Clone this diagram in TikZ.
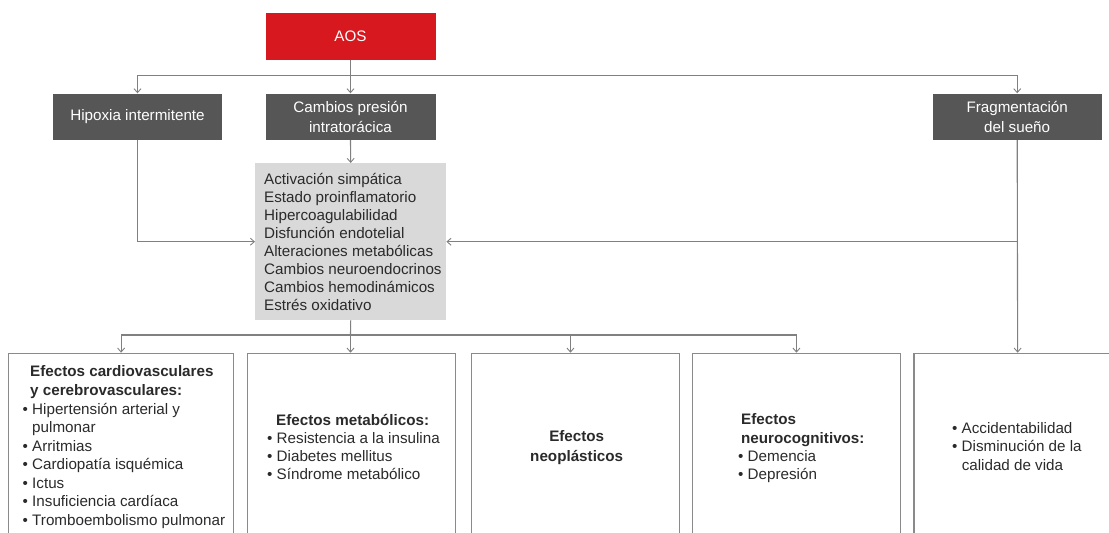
\documentclass[tikz,border=0pt]{standalone}
\usepackage{fontspec}
\setmainfont{Liberation Sans}
\usetikzlibrary{arrows.meta}
\definecolor{aosred}{HTML}{D7191F}
\definecolor{darkfill}{HTML}{565656}
\definecolor{lightfill}{HTML}{D9D9D9}
\definecolor{linegray}{HTML}{808080}
\definecolor{bordergray}{HTML}{8A8A8A}
\definecolor{txtcol}{HTML}{2A2A2A}
\begin{document}
\begin{tikzpicture}[x=1pt,y=-1pt,
  every node/.style={font=\fontsize{15.2}{18}\selectfont},
  redbox/.style={fill=aosred, text=white, minimum width=170pt, minimum height=47pt, inner sep=0pt, align=center},
  dbox/.style={fill=darkfill, text=white, minimum height=46.5pt, inner sep=0pt, align=center, font=\fontsize{15.2}{19.5}\selectfont},
  gbox/.style={fill=lightfill, minimum width=191pt, minimum height=157pt, inner sep=0pt, anchor=north west},
  ebox/.style={draw=bordergray, line width=1.2pt, minimum height=230pt, inner sep=0pt, anchor=north west},
  tl/.style={anchor=base west, inner sep=0pt, text=txtcol},
  tc/.style={anchor=base, inner sep=0pt, text=txtcol},
  conn/.style={draw=linegray, line width=1.1pt},
  arr/.style={conn, -{Straight Barb[length=4pt,width=7pt,line width=0.9pt]}}]
\useasboundingbox (0,0) rectangle (1109,533);
\clip (0,0) rectangle (1109,533);

% top boxes
\node[redbox] (AOS) at (350.5,36.5) {AOS};
\node[dbox, minimum width=169pt] (Hip) at (137.5,116.75) {Hipoxia intermitente};
\node[dbox, minimum width=170pt] (Camb) at (350.5,116.75) {Cambios presión\\intratorácica};
\node[dbox, minimum width=169pt] (Frag) at (1017.2,116.75) {Fragmentación\\del sueño};
\node[gbox] (gray) at (255,163) {};

% gray box text
\node[tl] (g1) at (264,184) {Activación simpática};
\node[tl] (g2) at (264,202.1) {Estado proinflamatorio};
\node[tl] (g3) at (264,220.2) {Hipercoagulabilidad};
\node[tl] (g4) at (264,238.3) {Disfunción endotelial};
\node[tl] (g5) at (264,256.4) {Alteraciones metabólicas};
\node[tl] (g6) at (264,274.5) {Cambios neuroendocrinos};
\node[tl] (g7) at (264,292.6) {Cambios hemodinámicos};
\node[tl] (g8) at (264,310.7) {Estrés oxidativo};

% bottom boxes
\node[ebox, minimum width=225pt] (B1) at (8,352.7) {};
\node[ebox, minimum width=208pt] (B2) at (247,352.7) {};
\node[ebox, minimum width=207.7pt] (B3) at (471,352.7) {};
\node[ebox, minimum width=208.3pt] (B4) at (691.7,352.7) {};
\node[ebox, minimum width=207.5pt] (B5) at (913.3,352.7) {};

% box 1 text
\node[tl, font=\fontsize{15.2}{18}\selectfont\bfseries] (t1a) at (30,376.7) {Efectos cardiovasculares};
\node[tl, font=\fontsize{15.2}{18}\selectfont\bfseries] (t1b) at (30,395.2) {y cerebrovasculares:};
\node[tl] (l1a) at (22.5,414) {• Hipertensión arterial y};
\node[tl] (l1b) at (22.5,432.5) {\phantom{• }pulmonar};
\node[tl] (l1c) at (22.5,451) {• Arritmias};
\node[tl] (l1d) at (22.5,469.5) {• Cardiopatía isquémica};
\node[tl] (l1e) at (22.5,488) {• Ictus};
\node[tl] (l1f) at (22.5,506.5) {• Insuficiencia cardíaca};
\node[tl] (l1g) at (22.5,525) {• Tromboembolismo pulmonar};

% box 2 text
\node[tl, font=\fontsize{15.2}{18}\selectfont\bfseries] (t2) at (276,425.5) {Efectos metabólicos:};
\node[tl] (l2a) at (267,443.3) {• Resistencia a la insulina};
\node[tl] (l2b) at (267,461.2) {• Diabetes mellitus};
\node[tl] (l2c) at (267,479) {• Síndrome metabólico};

% box 3 text
\node[tc, font=\fontsize{15.2}{18}\selectfont\bfseries] (t3a) at (576.7,441.7) {Efectos};
\node[tc, font=\fontsize{15.2}{18}\selectfont\bfseries] (t3b) at (576.7,461) {neoplásticos};

% box 4 text
\node[tl, font=\fontsize{15.2}{18}\selectfont\bfseries] (t4a) at (741,424.5) {Efectos};
\node[tl, font=\fontsize{15.2}{18}\selectfont\bfseries] (t4b) at (741,443) {neurocognitivos:};
\node[tl] (l4a) at (738,461.3) {• Demencia};
\node[tl] (l4b) at (738,479.6) {• Depresión};

% box 5 text
\node[tl] (l5a) at (952,433) {• Accidentabilidad};
\node[tl] (l5b) at (952,451.7) {• Disminución de la};
\node[tl] (l5c) at (952,470.7) {\phantom{• }calidad de vida};

% connectors
\coordinate (ts) at (350.5,75.5);
\draw[arr] (AOS.south) -- (Camb.north);
\draw[arr] (ts) -| (Hip.north);
\draw[arr] (ts) -| (Frag.north);
\draw[arr] (Camb.south) -- (gray.north);
\draw[arr] (Hip.south) |- (gray.west);
\draw[arr] (Frag.south) -- (B5.north);
\draw[arr] (Frag.south |- gray.east) -- (gray.east);
\coordinate (bs) at (350.5,335);
\draw[conn] (gray.south) -- (bs);
\draw[arr] (bs) -| (B1.north);
\draw[arr] (bs) -- (bs |- B2.north);
\draw[arr] (bs) -| ([xshift=-5pt]B3.north);
\draw[arr] (bs) -| (B4.north);
\end{tikzpicture}
\end{document}
